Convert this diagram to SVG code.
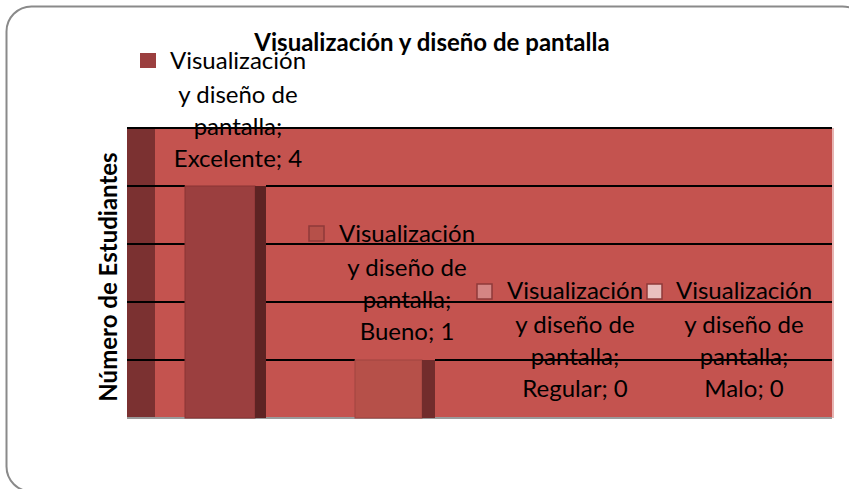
<svg xmlns="http://www.w3.org/2000/svg" width="849" height="489" viewBox="0 0 849 489">
<style>
.lbl{font-family:Lato,"Open Sans","Liberation Sans",sans-serif;font-size:24px;fill:#000;text-anchor:middle}
.ttl{font-family:Lato,"Open Sans","Liberation Sans",sans-serif;font-size:24px;font-weight:bold;fill:#000;text-anchor:middle}
.grid{stroke:#000;stroke-width:2;fill:none}
.key{stroke:#8E3A3A;stroke-width:1.5}
</style>
<rect id="frame" x="6.5" y="6.5" width="861" height="485" rx="25" ry="25" fill="#fff" stroke="#8a8a8a" stroke-width="2"/>
<g id="plot">
<rect x="127" y="128" width="705" height="290" fill="#C4534F"/>
<rect x="832" y="128" width="2" height="290" fill="#E8B4B2"/>
<rect x="127" y="128" width="28" height="290" fill="#7B3131"/>
<line x1="127" y1="418" x2="832" y2="418" stroke="#9a9a9a" stroke-width="2"/>
</g>
<g id="connectors">
<path class="grid" d="M127 128H832 M127 186H185 M266 186H832 M127 244H185 M266 244H832 M127 302H185 M266 302H832 M127 360H185 M266 360H355 M435 360H832"/>
</g>
<g id="bar-excelente">
<rect x="185" y="186" width="70" height="232" fill="#9B3F3F" stroke="#8A3535" stroke-width="1"/>
<rect x="255" y="186" width="11" height="232" fill="#5E2323"/>
</g>
<g id="bar-bueno">
<rect x="355" y="360" width="67" height="58" fill="#B65049" stroke="#A04440" stroke-width="1"/>
<rect x="422" y="360" width="13" height="58" fill="#722C2C"/>
</g>
<g id="title">
<text class="ttl" x="432" y="51">Visualización y diseño de pantalla</text>
</g>
<g id="axis-title">
<text class="ttl" transform="translate(117,277) rotate(-90)" x="0" y="0">Número de Estudiantes</text>
</g>
<g id="label-excelente">
<rect x="140" y="53" width="16" height="15" fill="#9B3F3F"/>
<text class="lbl" x="238" y="69">Visualización</text>
<text class="lbl" x="238" y="103">y diseño de</text>
<text class="lbl" x="238" y="135">pantalla;</text>
<text class="lbl" x="238" y="167">Excelente; 4</text>
</g>
<g id="label-bueno">
<rect class="key" x="309" y="226" width="15" height="15" fill="#B65049"/>
<text class="lbl" x="407" y="242">Visualización</text>
<text class="lbl" x="407" y="276">y diseño de</text>
<text class="lbl" x="407" y="308">pantalla;</text>
<text class="lbl" x="407" y="340">Bueno; 1</text>
</g>
<g id="label-regular">
<rect class="key" x="477" y="284" width="15" height="15" fill="#D48584"/>
<text class="lbl" x="575" y="299">Visualización</text>
<text class="lbl" x="575" y="333">y diseño de</text>
<text class="lbl" x="575" y="365">pantalla;</text>
<text class="lbl" x="575" y="397">Regular; 0</text>
</g>
<g id="label-malo">
<rect class="key" x="647" y="284" width="15" height="15" fill="#E9C0BF"/>
<text class="lbl" x="744" y="299">Visualización</text>
<text class="lbl" x="744" y="333">y diseño de</text>
<text class="lbl" x="744" y="365">pantalla;</text>
<text class="lbl" x="744" y="397">Malo; 0</text>
</g>
</svg>
